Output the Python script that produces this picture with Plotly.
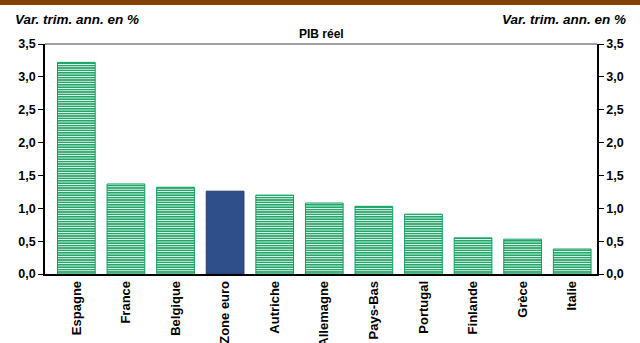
import plotly.graph_objects as go

categories = ["Espagne", "France", "Belgique", "Zone euro", "Autriche", "Allemagne",
              "Pays-Bas", "Portugal", "Finlande", "Grèce", "Italie"]
values = [3.22, 1.37, 1.32, 1.26, 1.20, 1.08, 1.03, 0.91, 0.55, 0.53, 0.38]
y_ticks = [0, 0.5, 1.0, 1.5, 2.0, 2.5, 3.0, 3.5]
y_tick_labels = ["0,0", "0,5", "1,0", "1,5", "2,0", "2,5", "3,0", "3,5"]

GREEN = "#0a9e5a"
BLUE = "#2e4f8a"
is_euro = [c == "Zone euro" for c in categories]

FONT = "Liberation Sans, Arial, sans-serif"

fig = go.Figure()
fig.add_trace(go.Bar(
    x=categories, y=values,
    marker=dict(
        color=[BLUE if e else GREEN for e in is_euro],
        line=dict(color=["#1f3a6a" if e else GREEN for e in is_euro], width=1),
        pattern=dict(
            shape=["" if e else "-" for e in is_euro],
            fillmode="overlay", fgcolor="white", fgopacity=1,
            size=2.4, solidity=0.4,
        ),
    ),
    showlegend=False, hoverinfo="skip",
))
fig.add_trace(go.Scatter(x=categories[:1], y=[0], yaxis="y2", mode="markers",
                         marker=dict(opacity=0), showlegend=False, hoverinfo="skip"))

axis_common = dict(
    range=[0, 3.5], tickvals=y_ticks, ticktext=y_tick_labels,
    showline=True, linecolor="black", linewidth=1.5,
    ticks="outside", ticklen=5, tickcolor="black", showgrid=False, zeroline=False,
    tickfont=dict(family=FONT, size=12.5, color="black", weight="bold"),
)

fig.update_layout(
    width=640, height=343,
    margin=dict(l=45, r=43, t=44, b=69, autoexpand=False),
    paper_bgcolor="white", plot_bgcolor="white",
    bargap=0.24,
    xaxis=dict(showline=True, linecolor="black", linewidth=1.5, ticks="",
               tickangle=-90, ticklabelstandoff=0, automargin=False,
               tickfont=dict(family=FONT, size=13, color="black", weight="bold")),
    yaxis=dict(**axis_common, side="left", automargin=False),
    yaxis2=dict(**axis_common, side="right", overlaying="y", automargin=False),
    shapes=[
        dict(type="line", xref="paper", yref="paper", x0=0, x1=1, y0=1, y1=1,
             line=dict(color="#808080", width=1.5)),
        dict(type="rect", xref="paper", yref="paper", xsizemode="pixel", ysizemode="pixel",
             xanchor=0, yanchor=1, x0=-45, x1=600, y0=39, y1=44,
             fillcolor="#844200", line=dict(width=0)),
    ],
    annotations=[
        dict(text="<b><i>Var. trim. ann. en %</i></b>", xref="paper", yref="paper",
             x=(13 - 45) / 552, y=1 + (44 - 20) / 230, xanchor="left", yanchor="middle",
             showarrow=False, font=dict(family=FONT, size=13.5, color="black")),
        dict(text="<b><i>Var. trim. ann. en %</i></b>", xref="paper", yref="paper",
             x=(628 - 45) / 552, y=1 + (44 - 20) / 230, xanchor="right", yanchor="middle",
             showarrow=False, font=dict(family=FONT, size=13.5, color="black")),
        dict(text="<b>PIB réel</b>", xref="paper", yref="paper",
             x=0.5, y=1 + (44 - 34) / 230, xanchor="center", yanchor="middle",
             showarrow=False, font=dict(family=FONT, size=12, color="black")),
    ],
)

fig.write_html("out.html")
